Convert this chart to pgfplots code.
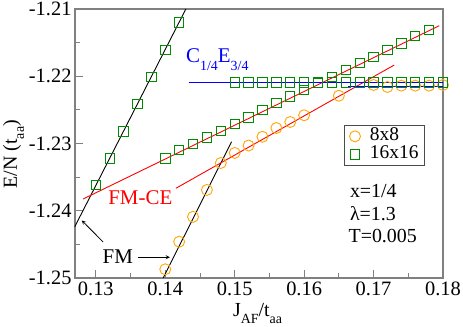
\documentclass[border=0pt]{standalone}
\usepackage{fontspec}
\setmainfont{Liberation Serif}
\usepackage{pgfplots}
\pgfplotsset{compat=1.18}
\definecolor{dkgreen}{rgb}{0,0.55,0}
\definecolor{myorange}{rgb}{1,0.65,0}
\newcommand{\sub}[1]{\raisebox{-0.35em}{\fontsize{14}{14}\selectfont #1}}

\pgfplotstableread{
x y
0.140 -1.2487
0.142 -1.2446
0.144 -1.2409
0.146 -1.2369
0.148 -1.2329
0.150 -1.2314
0.152 -1.2303
0.154 -1.2290
0.156 -1.2277
0.158 -1.2268
0.160 -1.2258
0.165 -1.2229
0.170 -1.2213
0.172 -1.2216
0.174 -1.2214
0.176 -1.2214
0.178 -1.2214
0.180 -1.2213
}\eight

\pgfplotstableread{
x y
0.130 -1.2362
0.132 -1.2322
0.134 -1.2282
0.136 -1.2241
0.138 -1.2201
0.140 -1.2161
0.142 -1.2120
0.140 -1.2322
0.142 -1.2310
0.144 -1.2301
0.146 -1.2291
0.148 -1.2281
0.150 -1.2271
0.152 -1.2261
0.154 -1.2250
0.156 -1.2240
0.158 -1.2230
0.160 -1.2220
0.162 -1.2210
0.164 -1.2201
0.166 -1.2191
0.168 -1.2180
0.170 -1.2171
0.172 -1.2161
0.174 -1.2151
0.176 -1.2140
0.178 -1.2131
0.150 -1.2209
0.152 -1.2209
0.154 -1.2209
0.156 -1.2209
0.158 -1.2209
0.160 -1.2209
0.162 -1.2209
0.164 -1.2209
0.166 -1.2209
0.168 -1.2209
0.170 -1.2209
0.172 -1.2209
0.174 -1.2209
0.176 -1.2209
0.178 -1.2209
0.180 -1.2209
}\sixteen

\begin{document}
\begin{tikzpicture}
\begin{axis}[
  scale only axis,
  width=368bp, height=269bp,
  xmin=0.127, xmax=0.18,
  ymin=-1.25, ymax=-1.21,
  xtick={0.13,0.14,0.15,0.16,0.17,0.18},
  ytick={-1.25,-1.24,-1.23,-1.22,-1.21},
  minor tick num=1,
  xtick pos=bottom, ytick pos=left,
  tick align=inside,
  major tick length=8bp, minor tick length=5bp,
  axis line style={draw=gray, line width=1.2pt},
  every tick/.style={draw=gray, line width=0.8pt},
  /pgf/number format/assume math mode=true,
  xticklabel style={/pgf/number format/.cd, fixed, fixed zerofill, precision=2},
  yticklabel style={/pgf/number format/.cd, fixed, fixed zerofill, precision=2},
  tick label style={font=\fontsize{20.5}{20.5}\selectfont},
  label style={font=\fontsize{20}{20}\selectfont},
  xlabel={J\sub{AF}/t\sub{aa}},
  ylabel={E/N (t\sub{aa})},
  xlabel style={at={(axis description cs:0.496,-0.144)}, anchor=base},
  ylabel style={at={(axis description cs:-0.158,0.46)}, anchor=base},
  clip=false,
  legend cell align=left,
  legend style={at={(axis description cs:0.951,0.569)}, anchor=north east,
    draw=gray!60!black, line width=0.8pt, font=\fontsize{19.5}{19.5}\selectfont,
    inner xsep=4bp, inner ysep=2bp, row sep=0pt,
    nodes={inner ysep=0pt, inner xsep=2bp, text height=13.5bp, text depth=4.5bp}},
]
\addlegendimage{legend image code/.code={
  \path[draw=none] (-7bp,0) -- (13bp,0);
  \draw[draw=myorange, line width=0.9pt] (0,0) circle (5.5bp);}}
\addlegendentry{8x8}
\addlegendimage{legend image code/.code={
  \path[draw=none] (-7bp,0) -- (13bp,0);
  \draw[draw=green!55!black, line width=0.9pt] (-4.7bp,-4.7bp) rectangle (4.7bp,4.7bp);}}
\addlegendentry{16x16}

\addplot[only marks, color=myorange, mark=o, mark size=5.5bp, line width=0.9pt, forget plot] table {\eight};
\addplot[only marks, color=dkgreen, mark=square, mark size=4.7bp, line width=0.9pt, forget plot] table {\sixteen};

\addplot[black, line width=0.9pt, forget plot] coordinates {(0.12697,-1.24237) (0.14297,-1.21)};
\addplot[black, line width=0.9pt, forget plot] coordinates {(0.1397,-1.25) (0.14955,-1.22973)};
\addplot[red, line width=0.9pt, forget plot] coordinates {(0.12817,-1.23825) (0.17947,-1.21248)};
\addplot[red, line width=0.9pt, forget plot] coordinates {(0.14153,-1.23666) (0.17298,-1.21833)};
\addplot[blue, line width=0.9pt, forget plot] coordinates {(0.14344,-1.2209) (0.180,-1.2209)};
\addplot[blue, line width=0.9pt, forget plot] coordinates {(0.16631,-1.22145) (0.180,-1.22145)};

\node[anchor=base west, text=blue, font=\fontsize{21}{21}\selectfont] at (axis cs:0.1425,-1.2180) {C\sub{1/4}E\sub{3/4}};
\node[anchor=base, text=red, font=\fontsize{21}{21}\selectfont] at (axis cs:0.13641,-1.23914) {FM-CE};
\node[anchor=base, font=\fontsize{21}{21}\selectfont] at (axis cs:0.13317,-1.24777) {FM};
\draw[-stealth, line width=0.8pt] (axis cs:0.13105,-1.24465) -- (axis cs:0.12798,-1.24144);
\draw[-stealth, line width=0.8pt] (axis cs:0.13610,-1.24692) -- (axis cs:0.14066,-1.24692);
\node[anchor=base west, font=\fontsize{20}{20}\selectfont] at (axis cs:0.1661,-1.23796) {x=1/4};
\node[anchor=base west, font=\fontsize{20}{20}\selectfont] at (axis cs:0.1661,-1.24138) {λ=1.3};
\node[anchor=base west, font=\fontsize{20}{20}\selectfont] at (axis cs:0.1659,-1.24475) {T=0.005};
\end{axis}
\pgfresetboundingbox
\path[use as bounding box] (-75bp,-49bp) rectangle (388bp,278bp);
\end{tikzpicture}
\end{document}
